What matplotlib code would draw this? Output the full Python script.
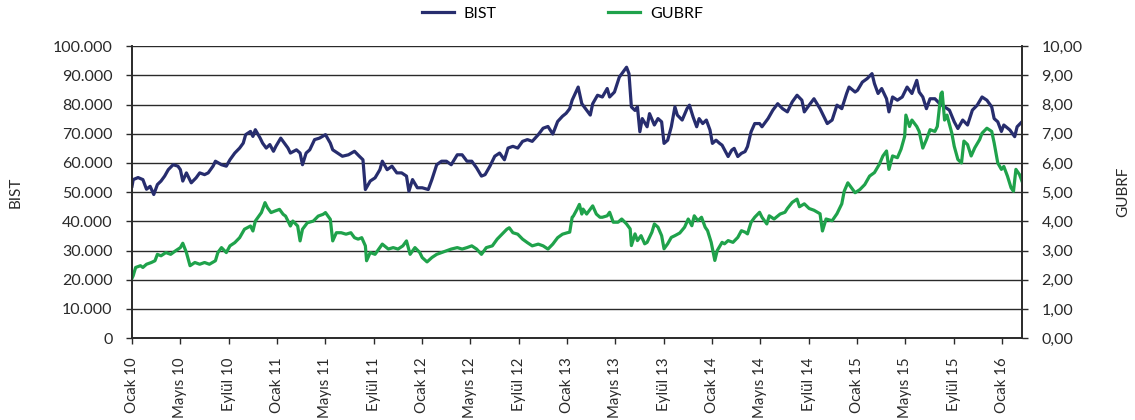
import numpy as np
import pandas as pd
import matplotlib
matplotlib.use("Agg")
import matplotlib.pyplot as plt
from matplotlib.ticker import FuncFormatter, MultipleLocator

plt.rcParams['font.family'] = ['Lato', 'DejaVu Sans']

# months after Ocak 2010 and index level (thousands)
bist_m = [0.0, 0.1, 0.5, 0.9, 1.2, 1.5, 1.8, 2.1, 2.4, 2.7, 3.0, 3.4, 3.8, 4.0, 4.2, 4.5, 4.9,
          5.3, 5.6, 6.0, 6.3, 6.7, 6.9, 7.4, 7.8, 8.1, 8.5, 8.9, 9.2, 9.4, 9.8, 10.0, 10.2,
          10.6, 10.8, 11.1, 11.4, 11.7, 11.9, 12.3, 12.6, 12.9, 13.1, 13.6, 13.9, 14.1, 14.4,
          14.7, 15.1, 15.5, 16.0, 16.4, 16.6, 17.0, 17.4, 17.9, 18.4, 18.8, 19.1, 19.3, 19.7,
          20.1, 20.5, 20.7, 21.1, 21.5, 21.9, 22.3, 22.7, 22.9, 23.2, 23.6, 24.0, 24.5, 24.8,
          25.2, 25.6, 26.0, 26.4, 26.9, 27.3, 27.7, 28.1, 28.5, 28.9, 29.2, 29.6, 30.0, 30.4,
          30.8, 31.1, 31.5, 31.9, 32.3, 32.7, 33.1, 33.6, 34.0, 34.4, 34.8, 35.2, 35.6, 35.9,
          36.2, 36.4, 36.9, 37.2, 37.4, 37.9, 38.1, 38.5, 38.9, 39.3, 39.5, 39.9, 40.3, 40.6,
          40.9, 41.1, 41.3, 41.6, 41.8, 42.0, 42.2, 42.6, 42.8, 43.2, 43.5, 43.8, 44.0, 44.3,
          44.6, 44.9, 45.1, 45.5, 45.9, 46.1, 46.4, 46.7, 46.9, 47.2, 47.5, 47.8, 48.0, 48.3,
          48.6, 48.8, 49.3, 49.6, 49.8, 50.1, 50.4, 50.7, 50.9, 51.2, 51.5, 51.9, 52.1, 52.6,
          53.0, 53.4, 53.8, 54.2, 54.6, 55.0, 55.4, 55.6, 56.0, 56.4, 56.9, 57.3, 57.5, 57.9,
          58.3, 58.7, 59.1, 59.3, 59.8, 60.0, 60.4, 60.8, 61.2, 61.4, 61.7, 62.0, 62.4, 62.6,
          62.9, 63.3, 63.7, 64.1, 64.5, 64.9, 65.1, 65.4, 65.7, 66.0, 66.4, 66.8, 67.2, 67.6,
          68.0, 68.3, 68.7, 69.1, 69.5, 69.9, 70.3, 70.7, 71.1, 71.3, 71.6, 71.9, 72.1, 72.6,
          73.0, 73.2, 73.6]
bist = [52.0, 54.3, 55.0, 54.3, 51.0, 52.0, 49.2, 52.6, 53.8, 55.5, 57.7, 59.4, 58.9, 57.7, 53.8,
        56.6, 53.2, 54.9, 56.6, 56.0, 56.6, 58.9, 60.6, 59.4, 58.9, 61.1, 63.4, 65.1, 66.8,
        69.7, 70.8, 69.1, 71.4, 68.5, 66.8, 65.1, 66.3, 64.0, 65.7, 68.5, 66.8, 65.1, 63.4,
        64.5, 63.4, 59.4, 63.4, 64.5, 68.0, 68.5, 69.7, 66.8, 64.5, 63.4, 62.3, 62.8, 64.0,
        62.3, 61.1, 50.9, 53.8, 54.9, 57.7, 60.6, 57.7, 58.9, 56.6, 56.6, 55.5, 50.3, 54.3,
        51.5, 51.5, 50.9, 54.3, 59.4, 60.6, 60.6, 59.4, 62.8, 62.8, 60.6, 60.6, 58.3, 55.5,
        56.0, 58.9, 62.3, 63.4, 61.1, 65.1, 65.7, 65.1, 67.4, 68.0, 67.4, 69.7, 71.9, 72.5,
        69.9, 74.2, 76.0, 77.0, 78.6, 81.5, 86.0, 80.3, 79.2, 76.4, 80.3, 83.2, 82.6, 85.5,
        82.6, 84.3, 89.4, 91.1, 92.8, 90.6, 79.2, 78.0, 79.2, 70.7, 75.2, 72.4, 76.9, 73.0,
        75.2, 74.1, 66.7, 67.8, 72.4, 79.2, 76.4, 74.7, 78.6, 79.8, 75.8, 72.4, 75.2, 73.5,
        74.7, 71.3, 66.7, 67.8, 66.7, 66.1, 62.2, 64.4, 65.0, 62.2, 63.3, 63.9, 65.6, 70.7,
        73.5, 73.5, 72.4, 75.2, 78.1, 80.3, 78.6, 77.5, 80.9, 83.2, 81.5, 77.5, 79.8, 82.0,
        78.6, 75.2, 73.5, 74.7, 79.8, 78.6, 83.8, 86.0, 84.3, 84.9, 87.7, 88.9, 90.6, 87.2,
        83.8, 85.5, 82.0, 77.5, 82.6, 81.5, 82.6, 86.0, 83.8, 88.3, 84.3, 82.6, 78.6, 82.0,
        82.0, 80.3, 79.2, 78.1, 74.1, 71.8, 74.7, 73.0, 78.1, 79.8, 82.6, 81.5, 79.2, 75.2,
        74.1, 70.8, 73.0, 71.3, 69.0, 72.4, 74.1]

gub_m = [0.0, 0.1, 0.3, 0.7, 0.9, 1.2, 1.6, 1.9, 2.1, 2.4, 2.8, 3.2, 3.6, 4.0, 4.2, 4.5, 4.8,
         5.2, 5.6, 6.0, 6.4, 6.9, 7.1, 7.4, 7.8, 8.1, 8.5, 8.9, 9.3, 9.8, 10.0, 10.2, 10.7,
         11.0, 11.2, 11.5, 11.8, 12.2, 12.5, 12.7, 13.1, 13.3, 13.7, 13.9, 14.1, 14.5, 15.0,
         15.4, 15.8, 16.0, 16.4, 16.6, 16.9, 17.3, 17.7, 18.1, 18.4, 18.7, 19.0, 19.3, 19.4,
         19.7, 20.1, 20.5, 20.7, 21.2, 21.6, 22.0, 22.4, 22.7, 23.0, 23.4, 23.8, 24.0, 24.4,
         24.8, 25.2, 25.6, 26.0, 26.4, 26.9, 27.3, 27.7, 28.1, 28.5, 28.9, 29.3, 29.8, 30.2,
         30.6, 31.0, 31.2, 31.5, 31.9, 32.3, 32.7, 33.1, 33.6, 34.0, 34.4, 34.8, 35.2, 35.6,
         36.0, 36.2, 36.4, 36.5, 36.8, 37.0, 37.2, 37.3, 37.6, 37.9, 38.1, 38.4, 38.7, 38.9,
         39.3, 39.5, 39.8, 40.2, 40.5, 40.9, 41.2, 41.3, 41.6, 41.8, 42.1, 42.4, 42.6, 43.0,
         43.2, 43.5, 43.8, 44.0, 44.3, 44.6, 44.9, 45.3, 45.7, 46.0, 46.3, 46.5, 46.8, 47.1,
         47.4, 47.6, 47.9, 48.2, 48.4, 48.8, 49.0, 49.3, 49.7, 50.1, 50.4, 50.7, 50.9, 51.2,
         51.5, 51.9, 52.1, 52.5, 52.7, 53.1, 53.6, 54.0, 54.2, 54.6, 55.0, 55.2, 55.6, 56.0,
         56.4, 56.9, 57.1, 57.4, 57.9, 58.3, 58.7, 58.9, 59.2, 59.5, 59.8, 60.2, 60.6, 61.0,
         61.4, 61.8, 62.1, 62.4, 62.6, 62.9, 63.3, 63.6, 63.9, 64.0, 64.3, 64.5, 64.9, 65.1,
         65.4, 65.7, 66.0, 66.4, 66.6, 66.9, 67.0, 67.2, 67.4, 67.8, 68.0, 68.3, 68.6, 68.8,
         69.1, 69.4, 69.7, 70.1, 70.3, 70.7, 71.1, 71.3, 71.6, 71.9, 72.1, 72.4, 72.7, 72.9,
         73.1, 73.4, 73.6]
gubrf = [2.05, 2.14, 2.42, 2.48, 2.42, 2.53, 2.59, 2.65, 2.87, 2.82, 2.93, 2.87, 2.99, 3.10,
         3.25, 2.93, 2.48, 2.59, 2.53, 2.59, 2.53, 2.65, 2.93, 3.10, 2.93, 3.16, 3.27, 3.44,
         3.73, 3.84, 3.67, 4.01, 4.30, 4.64, 4.47, 4.30, 4.35, 4.41, 4.24, 4.18, 3.84, 4.01,
         3.84, 3.33, 3.73, 3.95, 4.01, 4.18, 4.24, 4.30, 4.07, 3.33, 3.61, 3.61, 3.56, 3.61,
         3.44, 3.39, 3.44, 3.16, 2.65, 2.93, 2.87, 3.10, 3.22, 3.05, 3.10, 3.05, 3.16, 3.33,
         2.87, 3.10, 2.93, 2.76, 2.61, 2.76, 2.87, 2.93, 2.99, 3.05, 3.10, 3.05, 3.10, 3.16,
         3.05, 2.87, 3.10, 3.16, 3.39, 3.56, 3.73, 3.78, 3.61, 3.56, 3.39, 3.27, 3.16, 3.22,
         3.16, 3.05, 3.22, 3.44, 3.56, 3.61, 3.63, 4.14, 4.18, 4.41, 4.58, 4.25, 4.42, 4.25,
         4.42, 4.53, 4.25, 4.14, 4.14, 4.19, 4.31, 3.97, 3.97, 4.08, 3.91, 3.74, 3.17, 3.57,
         3.34, 3.51, 3.23, 3.28, 3.63, 3.91, 3.80, 3.51, 3.06, 3.23, 3.45, 3.51, 3.60, 3.80,
         4.08, 3.85, 4.19, 4.02, 4.14, 3.80, 3.68, 3.28, 2.66, 3.00, 3.28, 3.23, 3.34, 3.28,
         3.45, 3.68, 3.63, 3.57, 3.97, 4.14, 4.31, 4.14, 3.91, 4.19, 4.08, 4.25, 4.31, 4.44,
         4.65, 4.76, 4.50, 4.60, 4.44, 4.38, 4.26, 3.67, 4.08, 4.02, 4.26, 4.60, 5.03, 5.32,
         5.15, 4.98, 5.09, 5.26, 5.55, 5.67, 5.95, 6.24, 6.41, 5.78, 6.24, 6.18, 6.47, 6.91,
         7.64, 7.25, 7.47, 7.25, 7.08, 6.51, 6.80, 7.14, 7.08, 7.25, 8.37, 8.43, 7.47, 7.64,
         7.02, 6.57, 6.12, 6.00, 6.75, 6.63, 6.24, 6.52, 6.80, 7.02, 7.19, 7.08, 6.69, 6.00,
         5.78, 5.88, 5.55, 5.15, 5.03, 5.78, 5.60, 5.38]

tick_labels = ['Ocak 10', 'Mayıs 10', 'Eylül 10', 'Ocak 11', 'Mayıs 11', 'Eylül 11',
               'Ocak 12', 'Mayıs 12', 'Eylül 12', 'Ocak 13', 'Mayıs 13', 'Eylül 13',
               'Ocak 14', 'Mayıs 14', 'Eylül 14', 'Ocak 15', 'Mayıs 15', 'Eylül 15', 'Ocak 16']

start = pd.Timestamp('2010-01-01')
def to_dates(months):
    return [start + pd.Timedelta(days=m * 30.44) for m in months]

bist_d = to_dates(bist_m)
gub_d = to_dates(gub_m)
tick_d = pd.date_range('2010-01-01', periods=len(tick_labels), freq='4MS')

navy = '#272D6E'
green = '#1FA24B'
ink = '#2a2a2a'

fig = plt.figure(figsize=(11.35, 4.2), dpi=100)
ax = fig.add_axes([0.1163, 0.195, 0.7841, 0.695])
ax2 = ax.twinx()

l1, = ax.plot(bist_d, np.array(bist) * 1000, color=navy, lw=2.3, label='BIST')
l2, = ax2.plot(gub_d, gubrf, color=green, lw=2.3, label='GUBRF')
ax.set_ylim(0, 100000)
ax2.set_ylim(0, 10)
ax.set_xlim(start, start + pd.Timedelta(days=73.6 * 30.44))

ax.yaxis.set_major_locator(MultipleLocator(10000))
ax2.yaxis.set_major_locator(MultipleLocator(1))
ax.yaxis.set_major_formatter(FuncFormatter(lambda v, p: f'{int(v):,}'.replace(',', '.')))
ax2.yaxis.set_major_formatter(FuncFormatter(lambda v, p: f'{v:.2f}'.replace('.', ',')))

ax.set_xticks(tick_d)
ax.set_xticklabels(tick_labels, rotation=90)

ax.grid(axis='y', color=ink, lw=1.0)
ax.set_axisbelow(True)
for a in (ax, ax2):
    a.spines['top'].set_visible(False)
    for s in ('left', 'right', 'bottom'):
        a.spines[s].set_color(ink)
        a.spines[s].set_linewidth(1.2)
    a.tick_params(colors=ink, labelsize=11.5, length=4, width=1)
ax.tick_params(axis='y', pad=10)
ax2.tick_params(axis='y', pad=10)
ax.tick_params(axis='x', labelsize=10.8, pad=10)

ax.set_ylabel('BIST', fontsize=11, color=ink, labelpad=22)
ax2.set_ylabel('GUBRF', fontsize=11, color=ink, labelpad=24)

fig.legend([l1, l2], ['BIST', 'GUBRF'], loc='center', bbox_to_anchor=(0.4956, 0.967),
           ncol=2, frameon=False, fontsize=11.5, columnspacing=7.0, handlelength=2.0,
           handletextpad=0.6)

fig.savefig('out.png', dpi=100)
